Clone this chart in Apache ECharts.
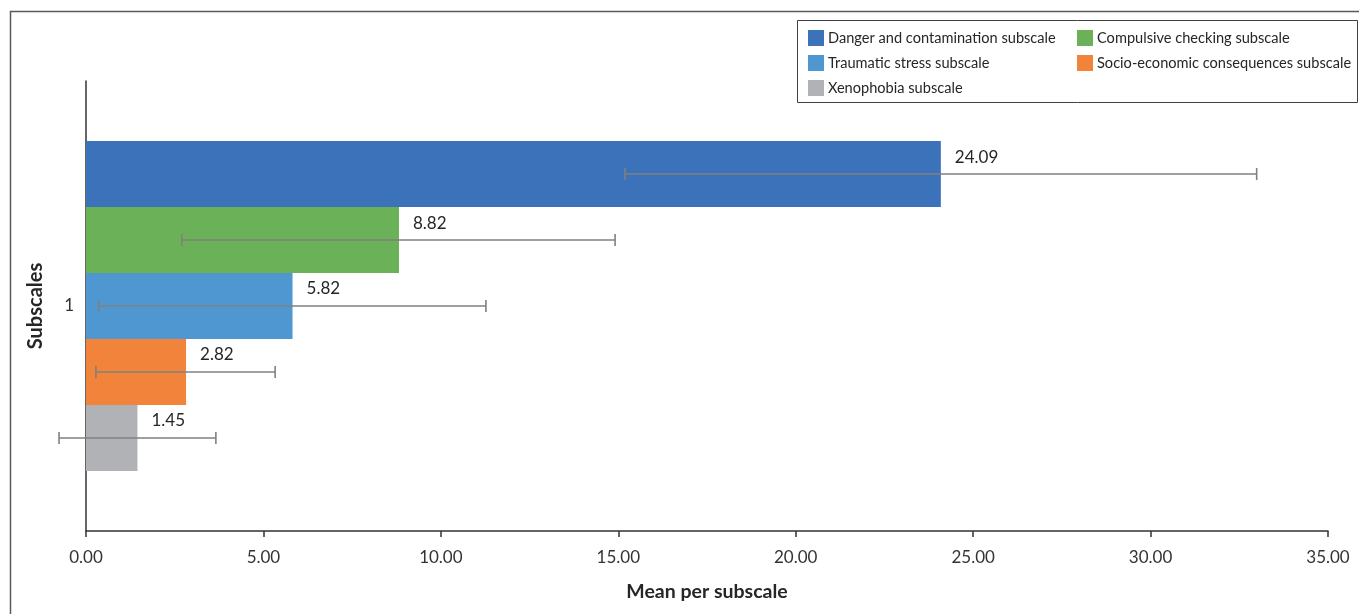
<!DOCTYPE html>
<html>
<head>
<meta charset="utf-8">
<script src="https://cdn.jsdelivr.net/npm/echarts@6/dist/echarts.min.js"></script>
<style>html,body{margin:0;padding:0;background:#fff}#c{width:1359px;height:614px}</style>
</head>
<body>
<div id="c"></div>
<script>
const categories = ['1'];
const seriesNames = ['Danger and contamination subscale','Compulsive checking subscale','Traumatic stress subscale','Socio-economic consequences subscale','Xenophobia subscale'];
const means = [24.09, 8.82, 5.82, 2.82, 1.45];
const errLow = [15.19, 2.70, 0.36, 0.28, -0.76];
const errHigh = [32.99, 14.91, 11.27, 5.33, 3.66];
const colors = ['#3c72b9', '#6bb157', '#4f97d1', '#f1833b', '#b1b2b5'];
const xMin = 0, xMax = 35, xStep = 5;

const FONT = 'Lato';
const GAP = 0.267;
const N = seriesNames.length;

const chart = echarts.init(document.getElementById('c'), null, {renderer: 'canvas'});

const barSeries = seriesNames.map((name, i) => ({
  type: 'bar',
  name: name,
  data: [means[i]],
  itemStyle: {color: colors[i]},
  barGap: '0%',
  barCategoryGap: (GAP * 100) + '%',
  label: {
    show: true,
    position: 'right',
    distance: 14,
    offset: [0, -17],
    formatter: p => p.value.toFixed(2),
    fontFamily: FONT,
    fontSize: 17,
    color: '#262626'
  },
  z: 2
}));

const errData = seriesNames.map((n, i) => [errLow[i], errHigh[i], 0, i]);

const errSeries = {
  type: 'custom',
  name: 'err',
  clip: false,
  z: 5,
  encode: {x: [0, 1], y: 2},
  data: errData,
  renderItem: (params, api) => {
    const i = api.value(3);
    const lo = api.coord([api.value(0), 0]);
    const hi = api.coord([api.value(1), 0]);
    const band = api.size([0, 1])[1];
    const group = band * (1 - GAP);
    const barH = group / N;
    const y = lo[1] - group / 2 + barH * (i + 0.5);
    const st = {stroke: '#808080', lineWidth: 1.6};
    return {
      type: 'group',
      children: [
        {type: 'line', shape: {x1: lo[0], y1: y, x2: hi[0], y2: y}, style: st},
        {type: 'line', shape: {x1: lo[0], y1: y - 6, x2: lo[0], y2: y + 6}, style: st},
        {type: 'line', shape: {x1: hi[0], y1: y - 6, x2: hi[0], y2: y + 6}, style: st}
      ]
    };
  }
};

const legendCommon = {
  orient: 'vertical',
  top: 25,
  itemWidth: 16,
  itemHeight: 16,
  itemGap: 9,
  icon: 'rect',
  textStyle: {fontFamily: FONT, fontSize: 14.6, color: '#262626', padding: [0, 0, 0, -1]},
  selectedMode: false
};

chart.setOption({
  animation: false,
  textStyle: {fontFamily: FONT},
  grid: {left: 86, right: 31, top: 81, bottom: 83, containLabel: false},
  legend: [
    Object.assign({}, legendCommon, {left: 803, data: [seriesNames[0], seriesNames[2], seriesNames[4]]}),
    Object.assign({}, legendCommon, {left: 1072, data: [seriesNames[1], seriesNames[3]]})
  ],
  xAxis: {
    type: 'value',
    min: xMin, max: xMax, interval: xStep,
    name: 'Mean per subscale',
    nameLocation: 'middle',
    nameGap: 51,
    nameTextStyle: {fontFamily: FONT, fontSize: 19.5, fontWeight: 'bold', color: '#262626'},
    axisLine: {show: true, lineStyle: {color: '#333', width: 1.5}},
    axisTick: {show: true, length: 6, lineStyle: {color: '#333', width: 1.5}},
    splitLine: {show: false},
    axisLabel: {margin: 18, fontFamily: FONT, fontSize: 17, color: '#333', formatter: v => v.toFixed(2)}
  },
  yAxis: {
    type: 'category',
    data: categories,
    name: 'Subscales',
    nameLocation: 'middle',
    nameGap: 40,
    nameRotate: 90,
    nameTextStyle: {fontFamily: FONT, fontSize: 20, fontWeight: 'bold', color: '#262626'},
    axisLine: {show: true, lineStyle: {color: '#333', width: 1.5}},
    axisTick: {show: false},
    axisLabel: {margin: 12, fontFamily: FONT, fontSize: 17, color: '#333'}
  },
  graphic: [
    {type: 'rect', silent: true, z: -1, shape: {x: 10.5, y: 11.5, width: 1500, height: 800},
     style: {fill: 'none', stroke: '#595959', lineWidth: 1.5}},
    {type: 'rect', silent: true, z: -1, shape: {x: 797.5, y: 20.5, width: 560, height: 82},
     style: {fill: 'none', stroke: '#404040', lineWidth: 1}}
  ],
  series: barSeries.concat([errSeries])
});
</script>
</body>
</html>
